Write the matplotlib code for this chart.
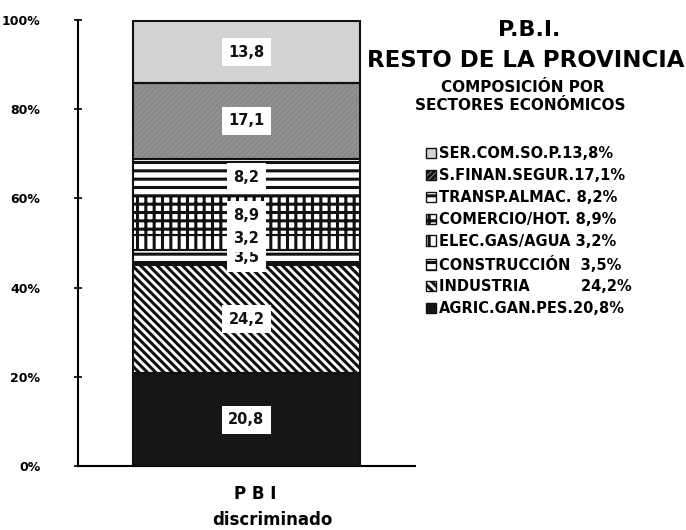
import matplotlib
matplotlib.use("Agg")
import matplotlib.pyplot as plt
from matplotlib.patches import Patch

plt.rcParams["font.family"] = ["DejaVu Sans"]
plt.rcParams["font.weight"] = "bold"
plt.rcParams["hatch.linewidth"] = 2.2

# sectors from bottom to top of the stacked bar
sectors = ["AGRIC.GAN.PES.", "INDUSTRIA", "CONSTRUCCIÓN", "ELEC.GAS/AGUA",
           "COMERCIO/HOT.", "TRANSP.ALMAC.", "S.FINAN.SEGUR.", "SER.COM.SO.P."]
values = [20.8, 24.2, 3.5, 3.2, 8.9, 8.2, 17.1, 13.8]
value_labels = ["20,8", "24,2", "3,5", "3,2", "8,9", "8,2", "17,1", "13,8"]
legend_labels = ["AGRIC.GAN.PES.20,8%", "INDUSTRIA          24,2%",
                 "CONSTRUCCIÓN  3,5%", "ELEC.GAS/AGUA 3,2%",
                 "COMERCIO/HOT. 8,9%", "TRANSP.ALMAC. 8,2%",
                 "S.FINAN.SEGUR.17,1%", "SER.COM.SO.P.13,8%"]
yticks = [0, 20, 40, 60, 80, 100]
ytick_labels = ["0%", "20%", "40%", "60%", "80%", "100%"]

# fill styles per sector (face, hatch, hatch colour)
styles = [
    ("#161616", None, "#161616"),
    ("white", "\\\\\\\\", "#111111"),
    ("white", "--", "#111111"),
    ("white", "||", "#111111"),
    ("white", "++", "#111111"),
    ("white", "--", "#111111"),
    ("#9a9a9a", "//////", "#8a8a8a"),
    ("#d3d3d3", None, "#d3d3d3"),
]

fig = plt.figure(figsize=(6.86, 5.30), dpi=100)
ax = fig.add_axes([0.1137, 0.1208, 0.491, 0.8415])

bottom = 0.0
handles = []
for i, (val, (fc, hatch, hc)) in enumerate(zip(values, styles)):
    ax.bar(0.5, val, bottom=bottom, width=0.674, color=fc, hatch=hatch,
           edgecolor=hc, linewidth=0, zorder=2)
    ax.bar(0.5, val, bottom=bottom, width=0.674, fill=False,
           edgecolor="#111111", linewidth=1.5, zorder=3)
    y = bottom + val / 2
    if i == 3:
        y = bottom + val * 0.8
    ax.text(0.5, y, value_labels[i], ha="center", va="center", fontsize=10.5,
            fontweight="bold", color="#111111", zorder=4,
            bbox=dict(facecolor="white", edgecolor="none", boxstyle="square,pad=0.45"))
    handles.append(Patch(facecolor=fc, hatch=hatch, edgecolor="#111111", linewidth=1.0))
    bottom += val

ax.set_xlim(0, 1)
ax.set_ylim(0, 100)
ax.set_xticks([])
ax.set_yticks(yticks)
ax.set_yticklabels(ytick_labels, fontsize=9, fontweight="bold")
ax.tick_params(axis="y", direction="inout", length=6, width=1.2, pad=24)
for s in ["top", "right"]:
    ax.spines[s].set_visible(False)
ax.spines["left"].set_linewidth(1.5)
ax.spines["bottom"].set_linewidth(1.5)

# titles
fig.text(0.772, 0.943, "P.B.I.", ha="center", va="center", fontsize=16, fontweight="bold")
fig.text(0.766, 0.885, "RESTO DE LA PROVINCIA", ha="center", va="center",
         fontsize=16.5, fontweight="bold")
fig.text(0.762, 0.834, "COMPOSICIÓN POR", ha="center", va="center", fontsize=11, fontweight="bold")
fig.text(0.758, 0.800, "SECTORES ECONÓMICOS", ha="center", va="center", fontsize=11, fontweight="bold")

# x labels
fig.text(0.372, 0.068, "P B I", ha="center", va="center", fontsize=12, fontweight="bold")
fig.text(0.397, 0.018, "discriminado", ha="center", va="center", fontsize=12, fontweight="bold")

leg = fig.legend(handles[::-1], legend_labels[::-1], loc="upper left",
                 bbox_to_anchor=(0.612, 0.735), frameon=False,
                 prop={"size": 10.5, "weight": "bold"},
                 handlelength=0.7, handleheight=0.7, handletextpad=0.2,
                 labelspacing=0.47, borderaxespad=0)

fig.savefig("out.png", dpi=100)
